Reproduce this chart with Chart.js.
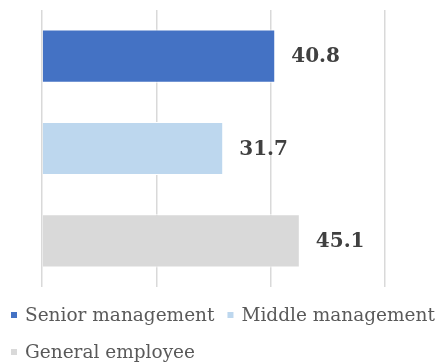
<!DOCTYPE html>
<html>
<head>
<meta charset="utf-8">
<script src="https://cdn.jsdelivr.net/npm/chart.js@4.4.1/dist/chart.umd.min.js"></script>
<style>
  body { margin: 0; background: #fff; }
  #wrap { width: 438px; height: 364px; }
</style>
</head>
<body>
<div id="wrap"><canvas id="myChart"></canvas></div>
<script>
const categories = ["Senior management", "Middle management", "General employee"];
const seniorValues = [40.8, null, null];
const middleValues = [null, 31.7, null];
const generalValues = [null, null, 45.1];
const xTicks = [0, 20, 40, 60];

// draw the value next to the end of each bar
const valueLabels = {
  id: "valueLabels",
  afterDatasetsDraw(chart) {
    const ctx = chart.ctx;
    ctx.save();
    ctx.font = "bold 20px 'DejaVu Serif'";
    ctx.fillStyle = "#404040";
    ctx.textBaseline = "middle";
    chart.data.datasets.forEach((ds, i) => {
      chart.getDatasetMeta(i).data.forEach((bar, j) => {
        if (ds.data[j] == null) return;
        ctx.fillText(ds.data[j].toFixed(1), bar.x + 16, bar.y + 1);
      });
    });
    ctx.restore();
  },
};

// left aligned legend under the plot, rows wrap like the excel one
const bottomLegend = {
  id: "bottomLegend",
  afterDraw(chart) {
    const ctx = chart.ctx;
    ctx.save();
    ctx.font = "18.5px 'DejaVu Serif'";
    ctx.textBaseline = "middle";
    let x = 11;
    let y = 315;
    chart.data.datasets.forEach((ds) => {
      const w = 14 + ctx.measureText(ds.label).width;
      if (x > 11 && x + w > chart.width) {
        x = 11;
        y += 37;
      }
      ctx.fillStyle = ds.backgroundColor;
      ctx.fillRect(x, y - 3, 6, 6);
      ctx.fillStyle = "#595959";
      ctx.fillText(ds.label, x + 14, y + 1);
      x += w + 13;
    });
    ctx.restore();
  },
};

const ctx = document.querySelector("#myChart").getContext("2d");
const chart = new Chart(ctx, {
  type: "bar",
  data: {
    labels: categories,
    datasets: [
      { label: "Senior management", data: seniorValues, backgroundColor: "#4472c4" },
      { label: "Middle management", data: middleValues, backgroundColor: "#bdd7ee" },
      { label: "General employee", data: generalValues, backgroundColor: "#d9d9d9" },
    ],
  },
  options: {
    indexAxis: "y",
    responsive: true,
    maintainAspectRatio: false,
    animation: false,
    grouped: false,
    categoryPercentage: 1,
    barPercentage: 0.575,
    borderColor: "#ffffff",
    borderWidth: 1,
    layout: { padding: { left: 42, right: 53, top: 10, bottom: 77 } },
    scales: {
      x: {
        min: xTicks[0],
        max: xTicks[xTicks.length - 1],
        ticks: { display: false, stepSize: 20 },
        grid: { color: "#d9d9d9", lineWidth: 1.5, drawTicks: false },
        border: { display: false },
      },
      y: {
        display: false,
      },
    },
    plugins: {
      legend: { display: false },
      tooltip: { enabled: false },
    },
  },
  plugins: [valueLabels, bottomLegend],
});
</script>
</body>
</html>
